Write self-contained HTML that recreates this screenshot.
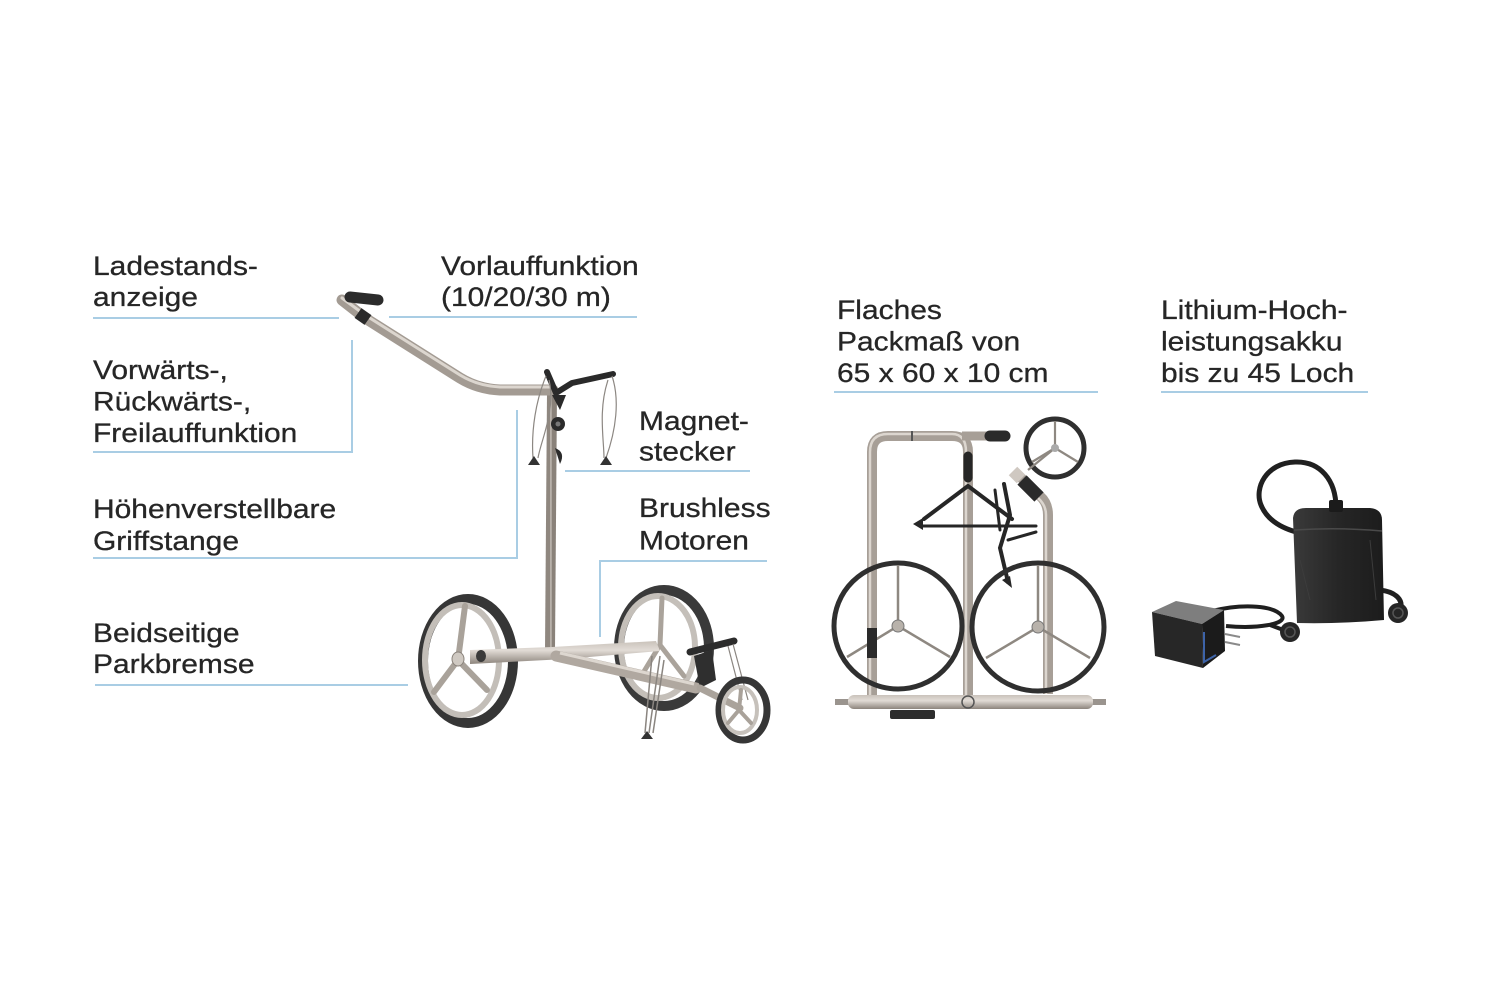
<!DOCTYPE html>
<html>
<head>
<meta charset="utf-8">
<style>
  html,body{margin:0;padding:0;background:#fff;}
  body{width:1500px;height:1000px;overflow:hidden;}
  svg{display:block;}
</style>
</head>
<body>
<svg width="1500" height="1000" viewBox="0 0 1500 1000" xmlns="http://www.w3.org/2000/svg">
  <defs>
    <linearGradient id="tubeV" x1="0" y1="0" x2="1" y2="0">
      <stop offset="0" stop-color="#8f877f"/>
      <stop offset="0.45" stop-color="#d9d3cc"/>
      <stop offset="1" stop-color="#8a827a"/>
    </linearGradient>
    <linearGradient id="tubeH" x1="0" y1="0" x2="0" y2="1">
      <stop offset="0" stop-color="#c9c2ba"/>
      <stop offset="0.4" stop-color="#e2dcd6"/>
      <stop offset="1" stop-color="#8c847c"/>
    </linearGradient>
    <linearGradient id="boxG" x1="0" y1="0" x2="1" y2="0">
      <stop offset="0" stop-color="#3a3a3a"/>
      <stop offset="0.5" stop-color="#262626"/>
      <stop offset="1" stop-color="#1c1c1c"/>
    </linearGradient>
  </defs>

  <rect width="1500" height="1000" fill="#fff"/>

  <!-- ============ LEADER LINES ============ -->
  <g stroke="#a9cde4" stroke-width="2" fill="none">
    <path d="M93,318 H339"/>
    <path d="M389,317 H637"/>
    <path d="M352,340 V452 H93"/>
    <path d="M517,410 V558 H93"/>
    <path d="M565,471 H750"/>
    <path d="M600,637 V561 H767"/>
    <path d="M95,685 H408"/>
    <path d="M834,392 H1098"/>
    <path d="M1161,392 H1368"/>
  </g>

  <!-- ============ TEXT ============ -->
  <g font-family="'Liberation Sans', Arial, sans-serif" font-size="27" fill="#262626" stroke="#262626" stroke-width="0.3">
    <text transform="translate(93,275) scale(1.11,1)"><tspan x="0" y="0">Ladestands-</tspan><tspan x="0" y="31">anzeige</tspan></text>
    <text transform="translate(441,275) scale(1.11,1)"><tspan x="0" y="0">Vorlauffunktion</tspan><tspan x="0" y="31">(10/20/30 m)</tspan></text>
    <text transform="translate(93,379) scale(1.11,1)"><tspan x="0" y="0">Vorwärts-,</tspan><tspan x="0" y="31.5">Rückwärts-,</tspan><tspan x="0" y="63">Freilauffunktion</tspan></text>
    <text transform="translate(639,430) scale(1.11,1)"><tspan x="0" y="0">Magnet-</tspan><tspan x="0" y="30.5">stecker</tspan></text>
    <text transform="translate(93,518) scale(1.11,1)"><tspan x="0" y="0">Höhenverstellbare</tspan><tspan x="0" y="32">Griffstange</tspan></text>
    <text transform="translate(639,517) scale(1.11,1)"><tspan x="0" y="0">Brushless</tspan><tspan x="0" y="32.5">Motoren</tspan></text>
    <text transform="translate(93,642) scale(1.11,1)"><tspan x="0" y="0">Beidseitige</tspan><tspan x="0" y="31">Parkbremse</tspan></text>
    <text transform="translate(837,319) scale(1.11,1)"><tspan x="0" y="0">Flaches</tspan><tspan x="0" y="31.5">Packmaß von</tspan><tspan x="0" y="63">65 x 60 x 10 cm</tspan></text>
    <text transform="translate(1161,319) scale(1.11,1)"><tspan x="0" y="0">Lithium-Hoch-</tspan><tspan x="0" y="31.5">leistungsakku</tspan><tspan x="0" y="63">bis zu 45 Loch</tspan></text>
  </g>

  <!-- ============ MAIN TROLLEY ============ -->
  <g>
    <!-- right big wheel (behind frame) -->
    <ellipse cx="664" cy="648" rx="45" ry="58" fill="none" stroke="#3a3a3a" stroke-width="10"/>
    <ellipse cx="658" cy="647" rx="37" ry="51" fill="none" stroke="#c4bfb9" stroke-width="6"/>
    <g stroke="#aaa39b" stroke-width="5" stroke-linecap="round">
      <line x1="660" y1="645" x2="662" y2="598"/>
      <line x1="660" y1="645" x2="640" y2="678"/>
      <line x1="660" y1="645" x2="684" y2="676"/>
    </g>

    <!-- left big wheel rings -->
    <ellipse cx="468" cy="661" rx="45" ry="62" fill="none" stroke="#363636" stroke-width="10"/>
    <ellipse cx="462" cy="660" rx="37" ry="55" fill="none" stroke="#c3beb8" stroke-width="6"/>

    <!-- column -->
    <line x1="552" y1="392" x2="550" y2="650" stroke="url(#tubeV)" stroke-width="10"/>

    <!-- frame -->
    <path d="M470,650 L552,647 L656,641 L660,651 L566,659 L470,664 Z" fill="url(#tubeH)"/>
    <line x1="556" y1="656" x2="696" y2="688" stroke="#b0a8a0" stroke-width="11" stroke-linecap="round"/>
    <line x1="560" y1="653" x2="694" y2="684" stroke="#ddd7d0" stroke-width="3"/>

    <!-- left wheel spokes (front) -->
    <g stroke="#a9a29a" stroke-width="6" stroke-linecap="round">
      <line x1="458" y1="660" x2="465" y2="606"/>
      <line x1="458" y1="660" x2="434" y2="692"/>
      <line x1="458" y1="660" x2="487" y2="690"/>
    </g>
    <ellipse cx="458" cy="659" rx="6" ry="7" fill="#cfc9c2" stroke="#8a837c" stroke-width="1"/>
    <ellipse cx="481" cy="656" rx="5" ry="6" fill="#3a3a3a"/>

    <!-- parking stand -->
    <g stroke="#8a8580" stroke-width="1.5" fill="none">
      <line x1="652" y1="656" x2="645" y2="733"/>
      <line x1="660" y1="656" x2="649" y2="733"/>
      <line x1="664" y1="660" x2="653" y2="733"/>
    </g>
    <path d="M641,739 L647,731 L653,739 Z" fill="#333"/>

    <!-- front fork & brake -->
    <path d="M690,652 L734,641" stroke="#2c2c2c" stroke-width="7" stroke-linecap="round"/>
    <path d="M694,656 L712,650 L716,680 L700,688 Z" fill="#2f2f2f"/>
    <line x1="700" y1="688" x2="740" y2="708" stroke="#aaa39b" stroke-width="7" stroke-linecap="round"/>
    <g stroke="#8a8580" stroke-width="1.2" fill="none">
      <line x1="733" y1="644" x2="748" y2="700"/>
      <line x1="728" y1="646" x2="742" y2="700"/>
    </g>

    <!-- small front wheel -->
    <ellipse cx="743" cy="710" rx="24" ry="30" fill="none" stroke="#363636" stroke-width="7"/>
    <ellipse cx="740" cy="710" rx="17" ry="23" fill="none" stroke="#c6c1bb" stroke-width="4"/>
    <g stroke="#a9a29a" stroke-width="4" stroke-linecap="round">
      <line x1="739" y1="710" x2="741" y2="690"/>
      <line x1="739" y1="710" x2="728" y2="723"/>
      <line x1="739" y1="710" x2="751" y2="723"/>
    </g>

    <!-- handle -->
    <path d="M342,300 L365,318 L460,378 Q478,389 500,390 L553,390" fill="none" stroke="#a39b93" stroke-width="11" stroke-linecap="round" stroke-linejoin="round"/>
    <path d="M342,298 L365,315 L460,375 Q478,386 500,387 L553,387" fill="none" stroke="#dcd6cf" stroke-width="3" stroke-linecap="round" stroke-linejoin="round"/>
    <line x1="358" y1="313" x2="368" y2="320" stroke="#2a2a2a" stroke-width="12"/>
    <line x1="350" y1="297" x2="378" y2="300" stroke="#2b2b2b" stroke-width="11" stroke-linecap="round"/>

    <!-- console -->
    <path d="M547,372 L556,393 L572,383 L613,374" fill="none" stroke="#2a2a2a" stroke-width="6" stroke-linejoin="round" stroke-linecap="round"/>
    <path d="M552,395 L560,410 L566,395 Z" fill="#2a2a2a"/>
    <circle cx="558" cy="424" r="7" fill="#2b2b2b"/>
    <circle cx="558" cy="424" r="2.5" fill="#777"/>
    <path d="M555,448 Q566,452 560,464 Z" fill="#2b2b2b"/>
    <g stroke="#8c8782" stroke-width="1.2" fill="none">
      <path d="M546,376 C536,400 531,430 533,458"/>
      <path d="M549,380 C556,410 541,440 538,458"/>
      <path d="M612,376 C620,400 616,430 606,458"/>
      <path d="M608,380 C598,410 604,440 604,458"/>
    </g>
    <path d="M528,465 L534,456 L540,465 Z" fill="#333"/>
    <path d="M600,465 L606,456 L612,465 Z" fill="#333"/>
  </g>

  <!-- ============ FOLDED TROLLEY ============ -->
  <g>
    <path d="M872,695 L872,452 Q872,436 888,436 L952,436 Q968,436 968,452 L968,702" fill="none" stroke="#a79f97" stroke-width="10"/>
    <path d="M870,695 L870,452 Q870,434 888,434 L952,434 Q966,434 966,452 L966,702" fill="none" stroke="#dcd6cf" stroke-width="2.5"/>
    <line x1="912" y1="431" x2="912" y2="441" stroke="#555" stroke-width="2"/>
    <line x1="962" y1="436" x2="990" y2="436" stroke="#a79f97" stroke-width="9"/>
    <line x1="990" y1="436" x2="1005" y2="436" stroke="#2a2a2a" stroke-width="11" stroke-linecap="round"/>

    <path d="M1048,694 L1048,515 Q1048,503 1040,496 L1015,472" fill="none" stroke="#a79f97" stroke-width="10" stroke-linejoin="round"/>
    <path d="M1046,694 L1046,515 Q1046,505 1038,498" fill="none" stroke="#dcd6cf" stroke-width="2.5"/>
    <line x1="1022" y1="480" x2="1039" y2="497" stroke="#2a2a2a" stroke-width="13"/>
    <line x1="1013" y1="471" x2="1021" y2="479" stroke="#cfc8c1" stroke-width="12"/>

    <circle cx="1055" cy="448" r="29" fill="none" stroke="#2f2f2f" stroke-width="5"/>
    <g stroke="#8e8881" stroke-width="2.2">
      <line x1="1055" y1="448" x2="1055" y2="421"/>
      <line x1="1055" y1="448" x2="1032" y2="462"/>
      <line x1="1055" y1="448" x2="1078" y2="462"/>
      <line x1="1055" y1="448" x2="1028" y2="470"/>
    </g>
    <circle cx="1055" cy="448" r="4" fill="#aaa"/>

    <g stroke="#262626" fill="none" stroke-linecap="round">
      <line x1="968" y1="456" x2="968" y2="478" stroke-width="9"/>
      <path d="M968,486 L924,519 M968,486 L1012,519" stroke-width="4"/>
      <line x1="922" y1="526" x2="1036" y2="526" stroke-width="3"/>
      <path d="M1004,484 L1010,515 L1000,548 L1008,582" stroke-width="4"/>
      <path d="M995,490 L1000,530" stroke-width="3"/>
      <path d="M1008,540 L1036,532" stroke-width="3"/>
    </g>
    <path d="M913,524 L923,518 L923,530 Z" fill="#262626"/>
    <path d="M1002,580 L1010,576 L1012,588 Z" fill="#262626"/>

    <ellipse cx="898" cy="626" rx="64" ry="63" fill="none" stroke="#2f2f2f" stroke-width="5"/>
    <g stroke="#8e8881" stroke-width="2.5">
      <line x1="898" y1="626" x2="898" y2="565"/>
      <line x1="898" y1="626" x2="847" y2="657"/>
      <line x1="898" y1="626" x2="950" y2="657"/>
    </g>
    <circle cx="898" cy="626" r="6" fill="#b8b2ab" stroke="#777" stroke-width="1"/>

    <ellipse cx="1038" cy="627" rx="66" ry="64" fill="none" stroke="#2f2f2f" stroke-width="5"/>
    <g stroke="#8e8881" stroke-width="2.5">
      <line x1="1038" y1="627" x2="1038" y2="565"/>
      <line x1="1038" y1="627" x2="986" y2="658"/>
      <line x1="1038" y1="627" x2="1090" y2="658"/>
    </g>
    <circle cx="1038" cy="627" r="6" fill="#b8b2ab" stroke="#777" stroke-width="1"/>

    <rect x="867" y="628" width="10" height="30" fill="#2a2a2a"/>

    <rect x="835" y="699" width="15" height="6" fill="#9a948e"/>
    <rect x="1091" y="699" width="15" height="6" fill="#9a948e"/>
    <rect x="848" y="695" width="245" height="14" rx="6" fill="url(#tubeH)"/>
    <circle cx="968" cy="702" r="6" fill="none" stroke="#555" stroke-width="1.5"/>
    <rect x="890" y="710" width="45" height="9" rx="2" fill="#2d2d2d"/>
  </g>

  <!-- ============ BATTERY & CHARGER ============ -->
  <g>
    <path d="M1336,508 C1336,480 1320,461 1295,462 C1266,463 1254,488 1261,505 C1267,520 1282,528 1296,532" fill="none" stroke="#202020" stroke-width="5"/>
    <path d="M1380,590 C1396,592 1404,600 1400,610" fill="none" stroke="#202020" stroke-width="5"/>
    <path d="M1293,518 Q1294,508 1306,508 L1370,508 Q1382,509 1382,520 L1384,620 Q1340,624 1297,623 Z" fill="url(#boxG)"/>
    <path d="M1294,530 Q1338,527 1382,531" fill="none" stroke="#4a4a4a" stroke-width="1.5"/>
    <path d="M1300,560 L1310,600 M1370,540 L1376,600" stroke="#3c3c3c" stroke-width="1"/>
    <rect x="1329" y="500" width="14" height="12" rx="2" fill="#1b1b1b"/>
    <circle cx="1398" cy="613" r="10" fill="#262626"/>
    <circle cx="1398" cy="613" r="5" fill="none" stroke="#555" stroke-width="1.5"/>

    <path d="M1212,611 C1245,603 1275,606 1282,616 C1287,624 1258,629 1226,626" fill="none" stroke="#1f1f1f" stroke-width="4"/>
    <path d="M1270,625 C1278,628 1284,630 1288,632" fill="none" stroke="#1f1f1f" stroke-width="4"/>
    <circle cx="1290" cy="632" r="10" fill="#262626"/>
    <circle cx="1290" cy="632" r="5" fill="none" stroke="#555" stroke-width="1.5"/>

    <path d="M1152,612 L1176,601 L1224,610 L1202,624 Z" fill="#7e7e7e"/>
    <path d="M1152,612 L1202,624 L1203,668 L1155,656 Z" fill="#272727"/>
    <path d="M1202,624 L1224,610 L1225,651 L1203,668 Z" fill="#1b1b1b"/>
    <path d="M1204,632 L1204,662 L1216,655" fill="none" stroke="#3d63a8" stroke-width="2"/>
    <g stroke="#8a8a8a" stroke-width="2">
      <line x1="1225" y1="634" x2="1240" y2="637"/>
      <line x1="1225" y1="642" x2="1240" y2="645"/>
    </g>
  </g>
</svg>
</body>
</html>
